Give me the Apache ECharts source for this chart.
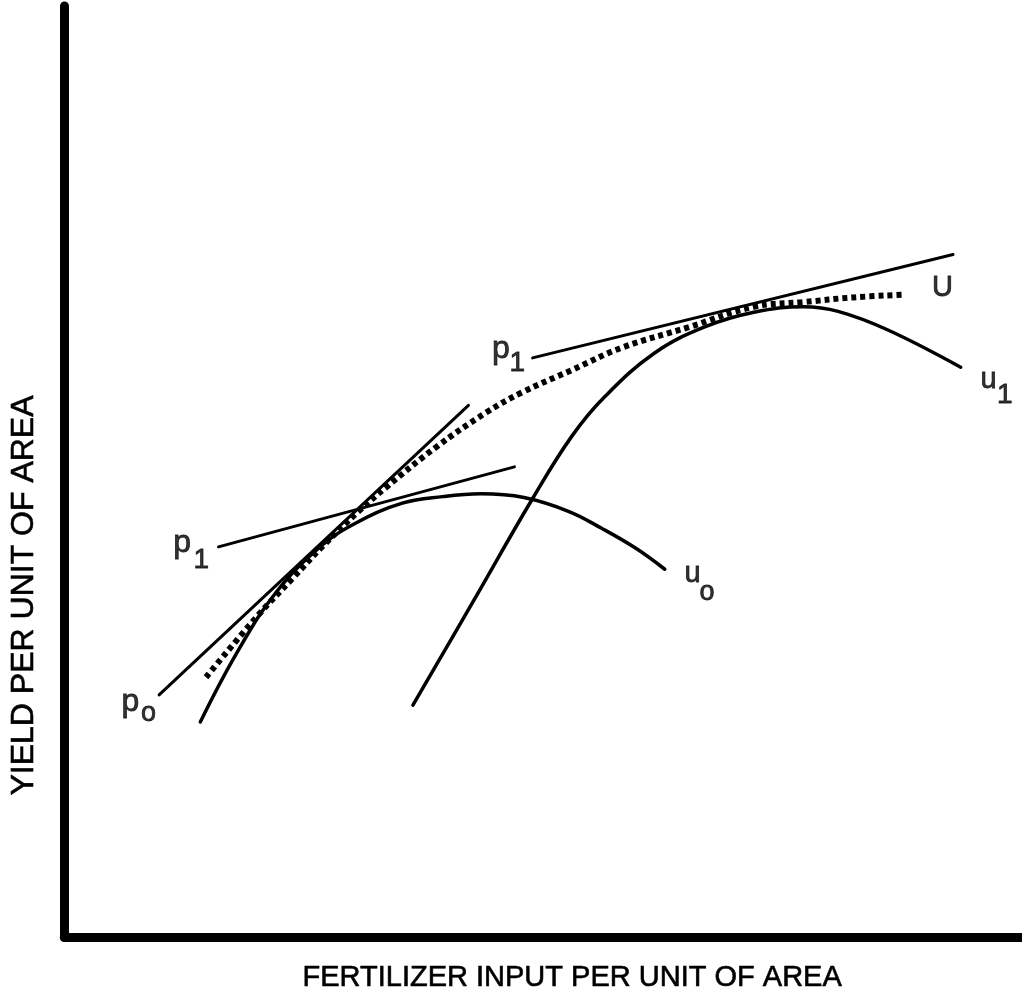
<!DOCTYPE html>
<html>
<head>
<meta charset="utf-8">
<script src="https://cdn.jsdelivr.net/npm/echarts@6/dist/echarts.min.js"></script>
<style>
  html, body { margin: 0; padding: 0; background: #fff; }
  #main { width: 1022px; height: 1000px; }
</style>
</head>
<body>
<div id="main"></div>
<script>
  // yield curve u0
  var u0X = [14.2, 18.0, 22.1, 26.7, 30.5, 35.3, 39.5, 43.5, 48.0, 52.7, 56.1, 59.6, 62.7];
  var u0Y = [23.1, 30.5, 37.0, 41.9, 44.5, 46.6, 47.3, 47.6, 47.2, 45.7, 43.9, 41.8, 39.5];
  // yield curve u1
  var u1X = [36.4, 42.5, 48.9, 53.0, 56.4, 61.6, 66.8, 72.0, 77.2, 80.8, 86.0, 93.6];
  var u1Y = [24.9, 35.7, 47.1, 53.8, 58.0, 62.7, 65.5, 67.1, 67.7, 67.2, 65.2, 61.2];
  // envelope U (dotted)
  var envX = [14.8, 20.1, 23.9, 27.0, 30.7, 33.6, 38.8, 44.0, 47.8, 53.0, 58.2, 65.2, 72.0, 77.2, 82.4, 87.8];
  var envY = [27.9, 34.4, 38.6, 42.0, 45.7, 48.3, 52.6, 56.3, 58.5, 60.9, 63.3, 65.5, 67.7, 68.2, 68.7, 69.0];
  // price lines (two end points each)
  var p0X = [9.9, 42.2];
  var p0Y = [26.0, 57.1];
  var p1LowX = [16.1, 47.0];
  var p1LowY = [41.9, 50.5];
  var p1UpX = [48.9, 92.8];
  var p1UpY = [62.2, 73.3];
  // curve labels, main glyph + subscript glyph
  var labelText = ['p', '1', 'p', 'o', 'p', '1', 'U', 'u', '1', 'u', 'o'];
  var labelX = [12.3, 14.3, 6.9, 8.8, 45.6, 47.3, 91.7, 96.5, 98.2, 65.6, 67.1];
  var labelY = [42.3, 40.5, 25.2, 24.0, 63.1, 61.6, 69.7, 59.8, 58.2, 39.0, 37.0];
  var labelSize = [32, 28, 32, 27, 32, 28, 29, 29, 28, 29, 27];

  var xTitle = 'FERTILIZER INPUT PER UNIT OF AREA';
  var yTitle = 'YIELD PER UNIT OF AREA';

  function pairs(xs, ys) {
    var out = [];
    for (var i = 0; i < xs.length; i++) out.push([xs[i], ys[i]]);
    return out;
  }

  function lineSeries(name, xs, ys, width, dash, smooth) {
    return {
      name: name,
      type: 'line',
      data: pairs(xs, ys),
      smooth: smooth,
      showSymbol: false,
      symbol: 'none',
      lineStyle: { color: '#000', width: width, type: dash || 'solid', cap: dash ? 'butt' : 'round' },
      z: dash ? 3 : 2
    };
  }

  var labelData = [];
  for (var i = 0; i < labelText.length; i++) {
    labelData.push({
      name: labelText[i],
      value: [labelX[i], labelY[i]],
      label: { fontSize: labelSize[i] }
    });
  }

  var axisLine = { show: true, lineStyle: { color: '#000', width: 9 } };

  var myChart = echarts.init(document.getElementById('main'));
  myChart.setOption({
    animation: false,
    backgroundColor: '#fff',
    grid: { left: 60, right: 0, top: 6, bottom: 63 },
    xAxis: {
      type: 'value', min: 0, max: 100,
      axisLine: axisLine, axisTick: { show: false }, axisLabel: { show: false },
      splitLine: { show: false },
      name: xTitle, nameLocation: 'middle', nameGap: 26,
      nameTextStyle: {
        fontFamily: 'Liberation Sans', fontSize: 29, color: '#000',
        textBorderColor: '#000', textBorderWidth: 0.6, padding: [0, 0, 0, 58]
      }
    },
    yAxis: {
      type: 'value', min: 0, max: 100,
      axisLine: axisLine, axisTick: { show: false }, axisLabel: { show: false },
      splitLine: { show: false },
      name: yTitle, nameLocation: 'middle', nameGap: 24, nameRotate: 90,
      nameTextStyle: {
        fontFamily: 'Liberation Sans', fontSize: 32, color: '#000',
        textBorderColor: '#000', textBorderWidth: 0.6, padding: [0, 248, 0, 0]
      }
    },
    series: [
      lineSeries('u0', u0X, u0Y, 3.5, null, 0.4),
      lineSeries('u1', u1X, u1Y, 3.5, null, 0.4),
      lineSeries('U', envX, envY, 6, [5, 4], 0.4),
      lineSeries('p0', p0X, p0Y, 3, null, false),
      lineSeries('p1 low', p1LowX, p1LowY, 3, null, false),
      lineSeries('p1 up', p1UpX, p1UpY, 3, null, false),
      {
        name: 'labels',
        type: 'scatter',
        symbolSize: 0,
        data: labelData,
        label: {
          show: true, position: 'inside', color: '#000',
          fontFamily: 'Liberation Sans',
          textBorderColor: '#000', textBorderWidth: 0.8,
          formatter: function(p) { return p.name; }
        },
        z: 5
      }
    ]
  });
</script>
</body>
</html>
